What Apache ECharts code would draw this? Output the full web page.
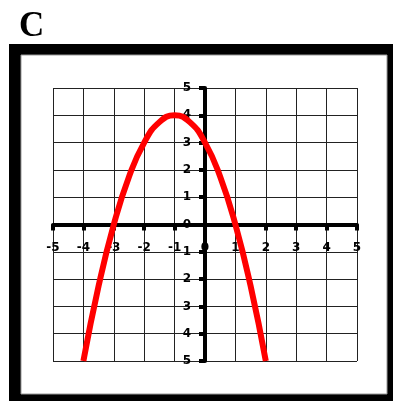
<!DOCTYPE html>
<html>
<head>
<meta charset="utf-8">
<script src="https://cdn.jsdelivr.net/npm/echarts@6/dist/echarts.min.js"></script>
<style>
  html, body { margin: 0; padding: 0; background: #fff; }
  #chart { width: 393px; height: 401px; }
</style>
</head>
<body>
<div id="chart"></div>
<script>
// values
const xPoints = [-4, -3.5, -3, -2.5, -2, -1.5, -1, -0.5, 0, 0.5, 1, 1.5, 2];
const yPoints = [-5, -2.25, 0, 1.75, 3, 3.75, 4, 3.75, 3, 1.75, 0, -2.25, -5];
const axisMin = -5;
const axisMax = 5;
const panelTitle = "C";

const chart = echarts.init(document.getElementById("chart"));

const gridLeft = 53;
const gridRight = 36;
const gridTop = 88;
const gridBottom = 40;
const gridW = 393 - gridLeft - gridRight;
const gridH = 401 - gridTop - gridBottom;

let curve = [];
for (let i = 0; i < xPoints.length; i++) {
  curve.push([xPoints[i], yPoints[i]]);
}

const labelFont = {
  color: "#000",
  fontFamily: "DejaVu Sans",
  fontWeight: "bold",
  fontSize: 12,
};

const option = {
  animation: false,
  title: {
    text: panelTitle,
    left: 14,
    top: 4,
    textStyle: {
      fontFamily: "Liberation Serif",
      fontWeight: "bold",
      fontSize: 35,
      color: "#000",
    },
  },
  // outer frame
  graphic: [
    {
      type: "rect",
      z: -10,
      shape: { x: 9, y: 44, width: 400, height: 400 },
      style: { fill: "#000" },
    },
    {
      type: "rect",
      z: -9,
      shape: { x: 21, y: 55, width: 366, height: 339 },
      style: { fill: "#fff", stroke: "#999", lineWidth: 1 },
    },
  ],
  grid: {
    left: gridLeft,
    right: gridRight,
    top: gridTop,
    bottom: gridBottom,
  },
  xAxis: {
    type: "value",
    min: axisMin,
    max: axisMax,
    interval: 1,
    // move the axis up to y = 0
    offset: -gridH / 2,
    axisLine: { onZero: false, lineStyle: { color: "#000", width: 4 } },
    axisTick: { show: true, length: 6, lineStyle: { color: "#000", width: 4 } },
    axisLabel: Object.assign({ margin: 17 }, labelFont),
    splitLine: { show: true, lineStyle: { color: "#222", width: 1 } },
  },
  yAxis: {
    type: "value",
    min: axisMin,
    max: axisMax,
    interval: 1,
    // move the axis right to x = 0
    offset: -gridW / 2,
    axisLine: { onZero: false, lineStyle: { color: "#000", width: 4 } },
    axisTick: { show: true, length: 6, lineStyle: { color: "#000", width: 4 } },
    axisLabel: Object.assign(
      {
        margin: 14,
        formatter: function (v) {
          return String(Math.abs(v));
        },
      },
      labelFont
    ),
    splitLine: { show: true, lineStyle: { color: "#222", width: 1 } },
  },
  series: [
    {
      type: "line",
      data: curve,
      smooth: true,
      symbol: "none",
      clip: true,
      lineStyle: { color: "#ff0000", width: 6 },
      z: 5,
    },
  ],
};

chart.setOption(option);
</script>
</body>
</html>
